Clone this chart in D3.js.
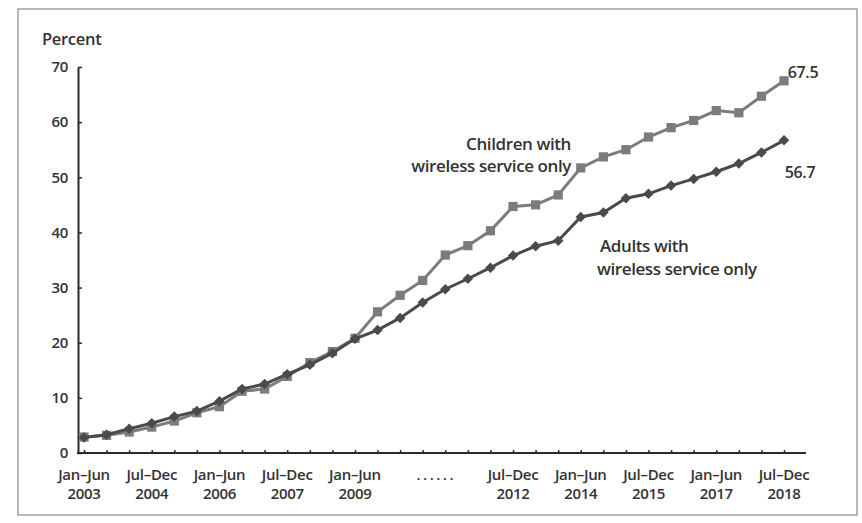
<!DOCTYPE html>
<html>
<head>
<meta charset="utf-8">
<script src="https://cdn.jsdelivr.net/npm/d3@7/dist/d3.min.js"></script>
<style>
  html, body { margin: 0; padding: 0; background: #fff; }
  svg { display: block; }
  text { font-family: "Open Sans", "Noto Sans", sans-serif; fill: #333; font-weight: 600; }
</style>
</head>
<body>
<svg id="chart" width="862" height="523"></svg>
<script>
// Half-year periods, Jan–Jun 2003 … Jul–Dec 2018
const periods = [
  "2003H1","2003H2","2004H1","2004H2","2005H1","2005H2","2006H1","2006H2",
  "2007H1","2007H2","2008H1","2008H2","2009H1","2009H2","2010H1","2010H2",
  "2011H1","2011H2","2012H1","2012H2","2013H1","2013H2","2014H1","2014H2",
  "2015H1","2015H2","2016H1","2016H2","2017H1","2017H2","2018H1","2018H2"
];
const children = [
  2.9, 3.2, 3.8, 4.7, 5.8, 7.3, 8.4, 11.2,
  11.6, 13.9, 16.4, 18.4, 20.8, 25.6, 28.6, 31.3,
  35.9, 37.6, 40.3, 44.7, 45.0, 46.8, 51.7, 53.7,
  55.0, 57.3, 59.0, 60.3, 62.1, 61.7, 64.7, 67.5
];
const adults = [
  2.8, 3.3, 4.4, 5.4, 6.6, 7.6, 9.4, 11.6,
  12.5, 14.3, 16.0, 18.1, 20.7, 22.3, 24.5, 27.3,
  29.7, 31.6, 33.6, 35.8, 37.5, 38.5, 42.8, 43.6,
  46.2, 47.0, 48.5, 49.7, 51.0, 52.5, 54.5, 56.7
];
const yTicks = [0, 10, 20, 30, 40, 50, 60, 70];
const xLabelIdx = [0, 3, 6, 9, 12, 19, 22, 25, 28, 31];
const xLabels = [
  ["Jan–Jun","2003"],["Jul–Dec","2004"],["Jan–Jun","2006"],["Jul–Dec","2007"],
  ["Jan–Jun","2009"],["Jul–Dec","2012"],["Jan–Jun","2014"],["Jul–Dec","2015"],
  ["Jan–Jun","2017"],["Jul–Dec","2018"]
];
const gapMarkIdx = 15.6;

const svg = d3.select("#chart");

// scanned frame
svg.append("rect")
  .attr("x", 18).attr("y", 9).attr("width", 839).attr("height", 506)
  .attr("fill", "none").attr("stroke", "#8a8a8a").attr("stroke-width", 1.2);

const x = d3.scaleLinear().domain([0, periods.length - 1]).range([84, 784]);
const y = d3.scaleLinear().domain([0, 70]).range([453, 67]);
const axisX = 78;

// Y axis
const gy = svg.append("g").attr("transform", `translate(${axisX},0)`)
  .call(d3.axisLeft(y).tickValues(yTicks).tickSizeInner(-4).tickSizeOuter(0).tickPadding(10));
gy.select(".domain").attr("stroke", "#2a2a2a").attr("stroke-width", 2);
gy.selectAll(".tick line").attr("stroke", "#2a2a2a").attr("stroke-width", 1.5);
gy.selectAll(".tick text").style("font-size", "15px").attr("fill", "#333")
  .style("font-family", "'Open Sans', sans-serif").style("font-weight", "600")
  .style("letter-spacing", "-0.3px");

svg.append("text").attr("x", 42).attr("y", 45)
  .style("font-size", "16.5px").style("letter-spacing", "-0.3px").text("Percent");

// X axis
const gx = svg.append("g").attr("transform", `translate(0,${y(0)})`)
  .call(d3.axisBottom(x).tickValues(d3.range(periods.length))
    .tickSizeInner(-3).tickSizeOuter(0).tickFormat(""));
gx.select(".domain").remove();
gx.selectAll(".tick line").attr("stroke", "#2a2a2a").attr("stroke-width", 1.5);
gx.append("line").attr("x1", axisX - 1).attr("x2", 806).attr("y1", 0).attr("y2", 0)
  .attr("stroke", "#2a2a2a").attr("stroke-width", 2);

const xl = svg.append("g");
xLabelIdx.forEach((idx, i) => {
  const t = xl.append("text").attr("x", x(idx)).attr("text-anchor", "middle")
    .style("font-size", "15px").style("letter-spacing", "-0.3px");
  t.append("tspan").attr("x", x(idx)).attr("y", 480).text(xLabels[i][0]);
  t.append("tspan").attr("x", x(idx)).attr("y", 499).text(xLabels[i][1]);
});
xl.append("text").attr("x", x(gapMarkIdx)).attr("y", 480).attr("text-anchor", "middle")
  .style("font-size", "15px").style("letter-spacing", "2.5px").text("......");

// lines
const line = d3.line().x((d, i) => x(i)).y(d => y(d));

const childColor = "#7c7c7c";
const adultColor = "#4a4a4a";

svg.append("path").datum(children).attr("d", line)
  .attr("fill", "none").attr("stroke", childColor).attr("stroke-width", 3);
svg.append("g").selectAll("path").data(children).join("path")
  .attr("transform", (d, i) => `translate(${x(i)},${y(d)})`)
  .attr("d", d3.symbol(d3.symbolSquare, 85)())
  .attr("fill", childColor);

svg.append("path").datum(adults).attr("d", line)
  .attr("fill", "none").attr("stroke", adultColor).attr("stroke-width", 3);
svg.append("g").selectAll("path").data(adults).join("path")
  .attr("transform", (d, i) => `translate(${x(i)},${y(d)}) rotate(45)`)
  .attr("d", d3.symbol(d3.symbolSquare, 55)())
  .attr("fill", adultColor);

// annotations
const ann = svg.append("g").style("font-size", "17px").style("letter-spacing", "-0.4px");
ann.append("text").attr("x", 571).attr("y", 150).attr("text-anchor", "end").text("Children with");
ann.append("text").attr("x", 571).attr("y", 172).attr("text-anchor", "end").text("wireless service only");
ann.append("text").attr("x", 600).attr("y", 252).text("Adults with");
ann.append("text").attr("x", 597).attr("y", 275).text("wireless service only");

svg.append("text").attr("x", x(31) + 19).attr("y", 78).attr("text-anchor", "middle")
  .style("font-size", "16px").style("letter-spacing", "-0.3px").text(children[31].toFixed(1));
svg.append("text").attr("x", x(31) + 16).attr("y", 178).attr("text-anchor", "middle")
  .style("font-size", "16px").style("letter-spacing", "-0.3px").text(adults[31].toFixed(1));
</script>
</body>
</html>
